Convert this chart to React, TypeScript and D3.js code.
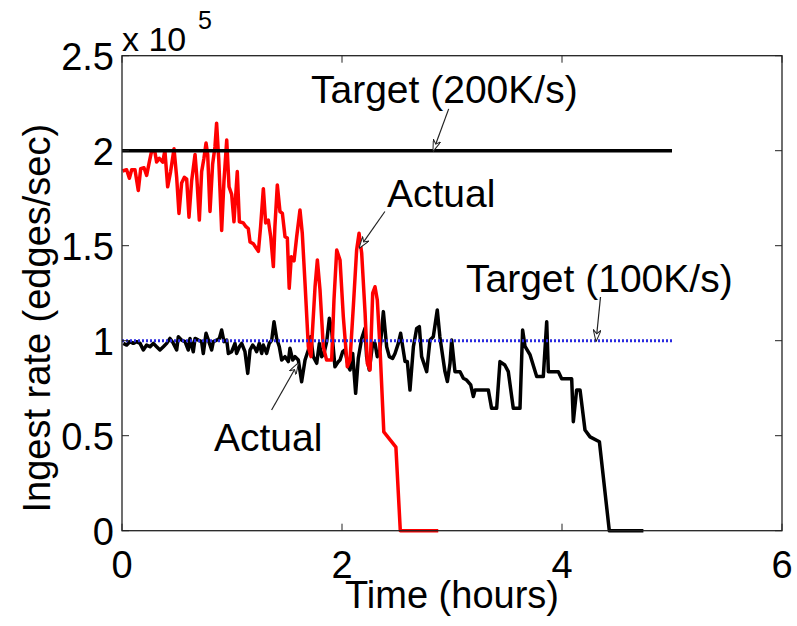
import React from 'react';
import * as d3 from 'd3';

// ingest rate, in units of 1e5 edges/sec, against time in hours
const actual200: [number, number][] = [
  [0.006, 1.893], [0.042, 1.9], [0.067, 1.855], [0.088, 1.9], [0.118, 1.9], [0.148, 1.79],
  [0.17, 1.905], [0.2, 1.91], [0.224, 1.87], [0.248, 1.94], [0.27, 2.0], [0.3, 1.99],
  [0.315, 1.94], [0.339, 1.96], [0.37, 1.94], [0.39, 2.0], [0.415, 1.81], [0.442, 1.89],
  [0.473, 2.01], [0.497, 1.86], [0.518, 1.67], [0.542, 1.83], [0.567, 1.86], [0.588, 1.85],
  [0.609, 1.65], [0.633, 1.84], [0.664, 1.98], [0.679, 1.87], [0.703, 1.635], [0.724, 1.89],
  [0.745, 1.96], [0.764, 2.04], [0.779, 1.98], [0.8, 1.68], [0.824, 1.93], [0.845, 2.02],
  [0.86, 2.145], [0.879, 1.96], [0.906, 1.58], [0.927, 1.84], [0.952, 2.056], [0.973, 1.81],
  [0.997, 1.77], [1.018, 1.626], [1.048, 1.89], [1.067, 1.626], [1.103, 1.62], [1.127, 1.6],
  [1.148, 1.59], [1.164, 1.52], [1.194, 1.51], [1.24, 1.47], [1.26, 1.6], [1.285, 1.8],
  [1.306, 1.62], [1.33, 1.635], [1.352, 1.547], [1.376, 1.39], [1.39, 1.6], [1.412, 1.82],
  [1.436, 1.68], [1.458, 1.67], [1.482, 1.547], [1.503, 1.54], [1.52, 1.276], [1.539, 1.442],
  [1.564, 1.42], [1.588, 1.547], [1.618, 1.688], [1.639, 1.565], [1.664, 1.3], [1.694, 0.968],
  [1.718, 0.916], [1.755, 1.284], [1.776, 1.425], [1.8, 1.267], [1.83, 0.968], [1.86, 0.898],
  [1.906, 0.898], [1.927, 1.214], [1.952, 1.477], [1.982, 1.425], [2.012, 1.126], [2.048, 0.863],
  [2.073, 0.898], [2.103, 1.179], [2.133, 1.477], [2.155, 1.565], [2.179, 1.46], [2.21, 1.144],
  [2.23, 0.881], [2.255, 0.846], [2.279, 1.25], [2.3, 1.284], [2.321, 1.214], [2.345, 0.968],
  [2.38, 0.52], [2.49, 0.44], [2.53, 0], [2.875, 0],
];

const actual100: [number, number][] = [
  [0.012, 0.986], [0.043, 0.977], [0.073, 0.995], [0.103, 0.986], [0.133, 0.995], [0.164, 0.986],
  [0.194, 0.951], [0.224, 0.977], [0.255, 0.968], [0.285, 0.986], [0.315, 0.968], [0.345, 0.951],
  [0.376, 0.968], [0.406, 0.986], [0.436, 1.012], [0.467, 0.986], [0.497, 0.951], [0.512, 1.021],
  [0.542, 1.003], [0.573, 0.995], [0.603, 0.951], [0.618, 1.012], [0.648, 0.942], [0.664, 1.012],
  [0.694, 1.003], [0.724, 0.995], [0.739, 0.933], [0.764, 1.039], [0.785, 1.003], [0.815, 0.951],
  [0.83, 0.995], [0.861, 1.003], [0.885, 1.012], [0.906, 1.056], [0.927, 0.995], [0.952, 1.003],
  [0.967, 0.933], [0.997, 0.942], [1.027, 0.986], [1.042, 0.933], [1.067, 0.968], [1.088, 0.986],
  [1.118, 0.942], [1.143, 0.828], [1.164, 0.951], [1.188, 0.977], [1.209, 0.96], [1.224, 0.942],
  [1.248, 0.986], [1.27, 0.933], [1.285, 0.977], [1.315, 0.933], [1.339, 0.986], [1.361, 1.003],
  [1.382, 1.1], [1.406, 1.012], [1.43, 0.968], [1.452, 0.898], [1.482, 0.916], [1.512, 0.89],
  [1.527, 0.96], [1.552, 0.898], [1.573, 0.916], [1.603, 0.898], [1.633, 0.784], [1.664, 0.898],
  [1.694, 0.951], [1.715, 1.021], [1.739, 0.916], [1.77, 0.881], [1.794, 0.986], [1.815, 0.916],
  [1.836, 0.933], [1.861, 0.995], [1.885, 1.118], [1.906, 1.056], [1.936, 0.863], [1.967, 0.89],
  [1.982, 0.898], [2.006, 0.942], [2.027, 0.951], [2.058, 0.863], [2.073, 0.846], [2.097, 0.933],
  [2.124, 0.723], [2.148, 0.907], [2.179, 1.012], [2.209, 1.065], [2.224, 0.916], [2.248, 0.846],
  [2.279, 0.986], [2.3, 0.986], [2.321, 0.916], [2.345, 0.951], [2.376, 1.153], [2.406, 0.968],
  [2.43, 0.916], [2.46, 0.907], [2.482, 0.933], [2.512, 0.986], [2.533, 1.039], [2.552, 0.968],
  [2.573, 0.89], [2.594, 0.89], [2.618, 0.74], [2.649, 0.968], [2.679, 1.065], [2.703, 1.074],
  [2.724, 0.916], [2.77, 0.837], [2.8, 1.004], [2.83, 1.021], [2.866, 1.162], [2.89, 1.02],
  [2.936, 0.837], [2.958, 0.785], [2.982, 0.881], [2.997, 1.004], [3.027, 0.837], [3.073, 0.837],
  [3.103, 0.802], [3.133, 0.793], [3.17, 0.767], [3.194, 0.706], [3.21, 0.741], [3.254, 0.741],
  [3.33, 0.741], [3.36, 0.644], [3.406, 0.644], [3.436, 0.89], [3.48, 0.872], [3.512, 0.837],
  [3.557, 0.644], [3.618, 0.644], [3.642, 1.056], [3.664, 0.97], [3.71, 0.925], [3.77, 0.811],
  [3.83, 0.811], [3.861, 1.1], [3.876, 0.837], [3.967, 0.837], [3.997, 0.8], [4.088, 0.8],
  [4.103, 0.574], [4.133, 0.741], [4.164, 0.741], [4.209, 0.53], [4.255, 0.494], [4.34, 0.468],
  [4.43, 0], [4.74, 0],
];

const target200: [number, number][] = [[0, 2], [5, 2]];
const target100: [number, number][] = [[0, 1], [5, 1]];

const xTicks = [0, 2, 4, 6];
const yTicks = [0, 0.5, 1, 1.5, 2, 2.5];
const yTickLabels = ['0', '0.5', '1', '1.5', '2', '2.5'];

// annotation text (pixel position of label) and arrow tail/head in data units
const notes = [
  { label: 'Target (200K/s)', tx: 311, ty: 103, from: [2.97, 2.22], to: [2.83, 2.0] },
  { label: 'Actual', tx: 387, ty: 207, from: [2.39, 1.68], to: [2.16, 1.49] },
  { label: 'Target (100K/s)', tx: 466, ty: 292, from: [4.35, 1.23], to: [4.31, 1.0] },
  { label: 'Actual', tx: 214, ty: 451, from: [1.36, 0.635], to: [1.6, 0.88] },
];

const W = 797;
const H = 626;
const margin = { top: 55.7, right: 15, bottom: 95.3, left: 122 };
const font = '"Liberation Sans", Arial, sans-serif';

export default function App() {
  const x = d3.scaleLinear().domain([0, 6]).range([margin.left, W - margin.right]);
  const y = d3.scaleLinear().domain([0, 2.5]).range([H - margin.bottom, margin.top]);
  const line = d3
    .line<[number, number]>()
    .x((d) => x(d[0]))
    .y((d) => y(d[1]));

  const x0 = x(0), x1 = x(6), y0 = y(0), y1 = y(2.5);
  const tick = 7;

  return (
    <svg width={W} height={H} style={{ position: 'absolute', left: 0, top: 0, background: '#fff' }} fontFamily={font}>
      <defs>
        <marker id="head" viewBox="0 0 12 8" refX="11" refY="4" markerWidth="12" markerHeight="8"
          markerUnits="userSpaceOnUse" orient="auto">
          <path d="M0,0 L12,4 L0,8 L4,4 Z" fill="#fff" stroke="#222" strokeWidth="1" />
        </marker>
      </defs>

      {/* data */}
      <path d={line(actual100) || ''} fill="none" stroke="#000" strokeWidth={3.5} strokeLinejoin="round" />
      <path d={line(actual200) || ''} fill="none" stroke="#ff0000" strokeWidth={3.5} strokeLinejoin="round" />
      <path d={line(target100) || ''} fill="none" stroke="#2a2ae0" strokeWidth={3} strokeDasharray="2,2" />
      <path d={line(target200) || ''} fill="none" stroke="#000" strokeWidth={3.5} />

      {/* axes box and ticks */}
      <rect x={x0} y={y1} width={x1 - x0} height={y0 - y1} fill="none" stroke="#222" strokeWidth={1.3} />
      {xTicks.map((t) => (
        <g key={'x' + t}>
          <line x1={x(t)} x2={x(t)} y1={y0} y2={y0 - tick} stroke="#222" strokeWidth={1} />
          <line x1={x(t)} x2={x(t)} y1={y1} y2={y1 + tick} stroke="#222" strokeWidth={1} />
          <text x={x(t)} y={y0 + 47} textAnchor="middle" fontSize={38} fill="#000">{t}</text>
        </g>
      ))}
      {yTicks.map((t, i) => (
        <g key={'y' + t}>
          <line x1={x0} x2={x0 + tick} y1={y(t)} y2={y(t)} stroke="#222" strokeWidth={1} />
          <line x1={x1} x2={x1 - tick} y1={y(t)} y2={y(t)} stroke="#222" strokeWidth={1} />
          <text x={x0 - 8} y={y(t) + 14} textAnchor="end" fontSize={38} fill="#000">{yTickLabels[i]}</text>
        </g>
      ))}

      {/* exponent */}
      <text x={x0} y={51} fontSize={34} fill="#000">x 10</text>
      <text x={198} y={29} fontSize={25} fill="#000">5</text>

      {/* axis labels */}
      <text x={(x0 + x1) / 2} y={608} textAnchor="middle" fontSize={38} fill="#000">Time (hours)</text>
      <text transform={`translate(50,${(y0 + y1) / 2 + 25}) rotate(-90)`} textAnchor="middle" fontSize={38} fill="#000">
        Ingest rate (edges/sec)
      </text>

      {/* annotations */}
      {notes.map((n, i) => (
        <g key={'n' + i}>
          <text x={n.tx} y={n.ty} fontSize={39} fill="#000">{n.label}</text>
          <line x1={x(n.from[0])} y1={y(n.from[1])} x2={x(n.to[0])} y2={y(n.to[1])}
            stroke="#222" strokeWidth={1.2} markerEnd="url(#head)" />
        </g>
      ))}
    </svg>
  );
}
